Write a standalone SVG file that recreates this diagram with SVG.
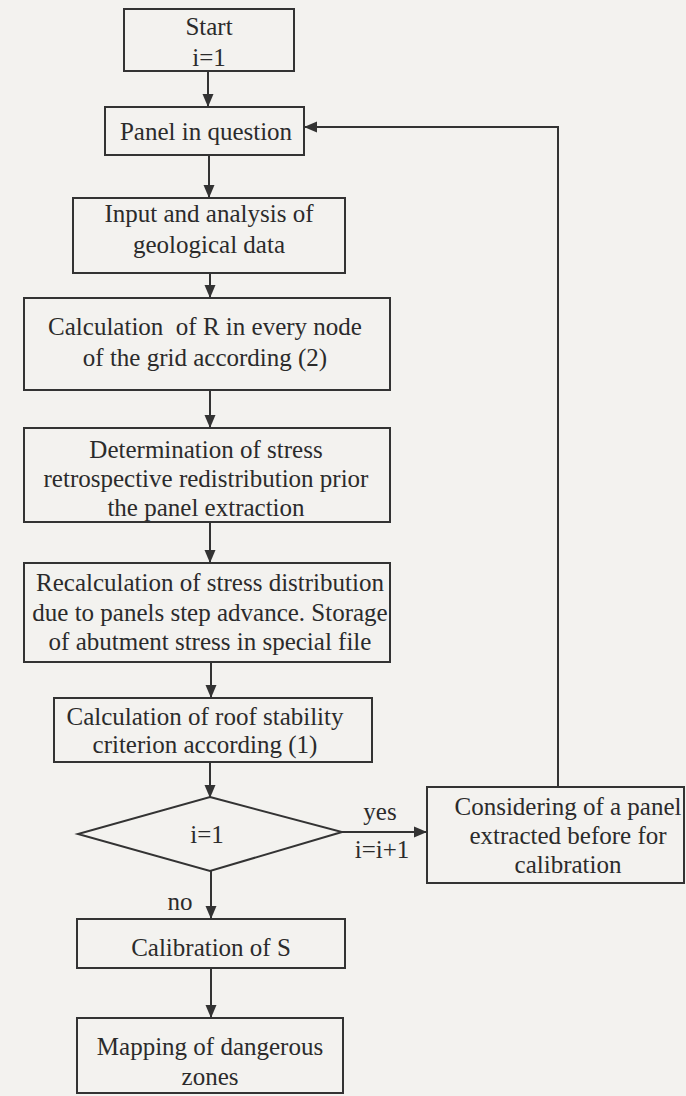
<svg xmlns="http://www.w3.org/2000/svg" width="686" height="1096" viewBox="0 0 686 1096">
<style>
.box{fill:none;stroke:#333;stroke-width:2}
.t{font-family:"Liberation Serif","Times New Roman",serif;font-size:25px;fill:#2b2b2b;text-anchor:middle}
.c{fill:none;stroke:#333;stroke-width:2}
</style>
<defs>
<marker id="ah" markerWidth="13" markerHeight="13" viewBox="0 0 13 13" refX="12" refY="6.5" orient="auto" markerUnits="userSpaceOnUse">
<path d="M0,1 L13,6.5 L0,12 Z" fill="#333"/>
</marker>
</defs>
<rect width="686" height="1096" fill="#f3f2ef"/>
<g id="connectors">
<line class="c" x1="208" y1="71" x2="208" y2="106" marker-end="url(#ah)"/>
<line class="c" x1="209" y1="155" x2="209" y2="197" marker-end="url(#ah)"/>
<line class="c" x1="210" y1="273" x2="210" y2="297" marker-end="url(#ah)"/>
<line class="c" x1="210" y1="390" x2="210" y2="427" marker-end="url(#ah)"/>
<line class="c" x1="210" y1="522" x2="210" y2="562" marker-end="url(#ah)"/>
<line class="c" x1="211" y1="662" x2="211" y2="697" marker-end="url(#ah)"/>
<line class="c" x1="210" y1="762" x2="210" y2="797" marker-end="url(#ah)"/>
<line class="c" x1="342" y1="832" x2="426" y2="832" marker-end="url(#ah)"/>
<line class="c" x1="211" y1="871" x2="211" y2="918" marker-end="url(#ah)"/>
<line class="c" x1="211" y1="968" x2="211" y2="1017" marker-end="url(#ah)"/>
<polyline class="c" points="558,787 558,127 305,127" marker-end="url(#ah)"/>
<text class="t" x="380" y="820">yes</text>
<text class="t" x="382" y="858" font-size="24">i=i+1</text>
<text class="t" x="180" y="910">no</text>
</g>
<g id="start">
<rect class="box" x="124" y="9" width="170" height="62"/>
<text class="t" x="209" y="35">Start</text>
<text class="t" x="209" y="66">i=1</text>
</g>
<g id="panel">
<rect class="box" x="105" y="107" width="199" height="48"/>
<text class="t" x="206" y="140">Panel in question</text>
</g>
<g id="input">
<rect class="box" x="73" y="198" width="272" height="75"/>
<text class="t" x="209" y="222">Input and analysis of</text>
<text class="t" x="209" y="253">geological data</text>
</g>
<g id="calcR">
<rect class="box" x="24" y="298" width="366" height="92"/>
<text class="t" x="205" y="335" xml:space="preserve">Calculation  of R in every node</text>
<text class="t" x="205" y="366">of the grid according (2)</text>
</g>
<g id="determination">
<rect class="box" x="24" y="428" width="366" height="94"/>
<text class="t" x="206" y="458">Determination of stress</text>
<text class="t" x="206" y="487">retrospective redistribution prior</text>
<text class="t" x="206" y="516">the panel extraction</text>
</g>
<g id="recalc">
<rect class="box" x="24" y="563" width="366" height="99"/>
<text class="t" x="210" y="591">Recalculation of stress distribution</text>
<text class="t" x="210" y="621">due to panels step advance. Storage</text>
<text class="t" x="210" y="650">of abutment stress in special file</text>
</g>
<g id="roof">
<rect class="box" x="54" y="698" width="318" height="64"/>
<text class="t" x="205" y="725">Calculation of roof stability</text>
<text class="t" x="205" y="753">criterion according (1)</text>
</g>
<g id="decision">
<polygon class="box" points="210,797 342,832 210,871 78,834"/>
<text class="t" x="207" y="843">i=1</text>
</g>
<g id="considering">
<rect class="box" x="427" y="787" width="257" height="96"/>
<text class="t" x="568" y="815">Considering of a panel</text>
<text class="t" x="568" y="844">extracted before for</text>
<text class="t" x="568" y="873">calibration</text>
</g>
<g id="calibration">
<rect class="box" x="77" y="919" width="268" height="49"/>
<text class="t" x="211" y="956">Calibration of S</text>
</g>
<g id="mapping">
<rect class="box" x="77" y="1018" width="266" height="75"/>
<text class="t" x="210" y="1055">Mapping of dangerous</text>
<text class="t" x="210" y="1085">zones</text>
</g>
</svg>
